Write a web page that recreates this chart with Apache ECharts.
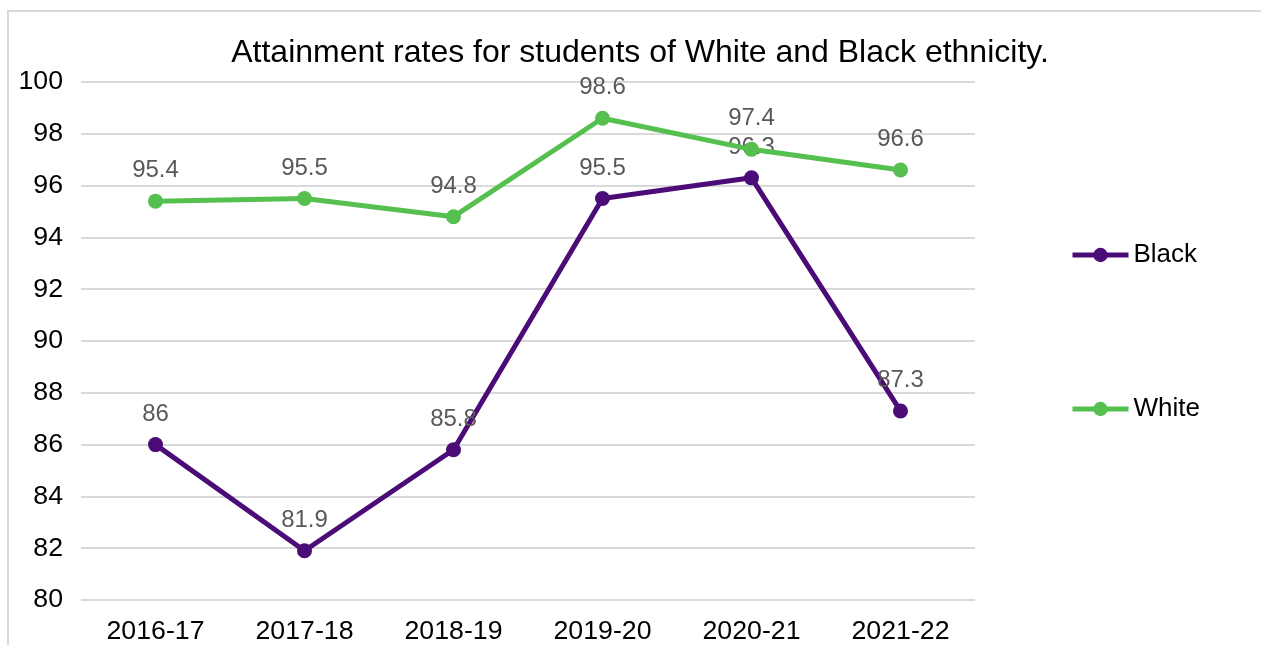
<!DOCTYPE html>
<html><head><meta charset="utf-8">
<script src="https://cdn.jsdelivr.net/npm/echarts@6/dist/echarts.min.js"></script>
<style>html,body{margin:0;padding:0;background:#fff}#c{width:1261px;height:645px}</style>
</head><body><div id="c"></div>
<script>
const categories = ["2016-17","2017-18","2018-19","2019-20","2020-21","2021-22"];
const blackValues = [86, 81.9, 85.8, 95.5, 96.3, 87.3];
const whiteValues = [95.4, 95.5, 94.8, 98.6, 97.4, 96.6];
const titleText = "Attainment rates for students of White and Black ethnicity.";
const FONT = "'Liberation Sans', Arial, sans-serif";
const chart = echarts.init(document.getElementById('c'));
const labelCfg = {show:true, position:'top', distance:11, color:'#595959', fontSize:24, fontFamily:FONT};
chart.setOption({
  animation:false,
  graphic:[{type:'rect', shape:{x:8,y:11,width:1300,height:700}, style:{fill:'none', stroke:'#d9d9d9', lineWidth:2}, silent:true}],
  title:{text:titleText, left:640, top:37, textAlign:'center', padding:0, textStyle:{fontSize:32, fontWeight:'normal', color:'#000', fontFamily:FONT}},
  grid:{left:81, right:286, top:82, bottom:42, containLabel:false},
  legend:{orient:'vertical', left:1070, top:240, padding:0, itemGap:124, itemWidth:56, itemHeight:18,
    lineStyle:{width:5},
    textStyle:{fontSize:26, lineHeight:30, color:'#000', fontFamily:FONT}, data:['Black','White']},
  xAxis:{type:'category', data:categories, boundaryGap:true,
    axisLine:{show:false}, axisTick:{show:false},
    axisLabel:{fontSize:26.7, color:'#000', fontFamily:FONT, margin:18}},
  yAxis:{type:'value', min:80, max:100, interval:2,
    axisLine:{show:false}, axisTick:{show:false},
    axisLabel:{fontSize:26.7, color:'#000', fontFamily:FONT, margin:18},
    splitLine:{lineStyle:{color:'#d9d9d9', width:2}}},
  series:[
    {name:'Black', type:'line', data:blackValues, symbol:'circle', symbolSize:15,
     lineStyle:{width:5, color:'#4b0c78'}, itemStyle:{color:'#4b0c78'}, label:labelCfg, z:2},
    {name:'White', type:'line', data:whiteValues, symbol:'circle', symbolSize:15,
     lineStyle:{width:5, color:'#55c04f'}, itemStyle:{color:'#55c04f'}, label:labelCfg, z:3}
  ]
});
</script></body></html>
